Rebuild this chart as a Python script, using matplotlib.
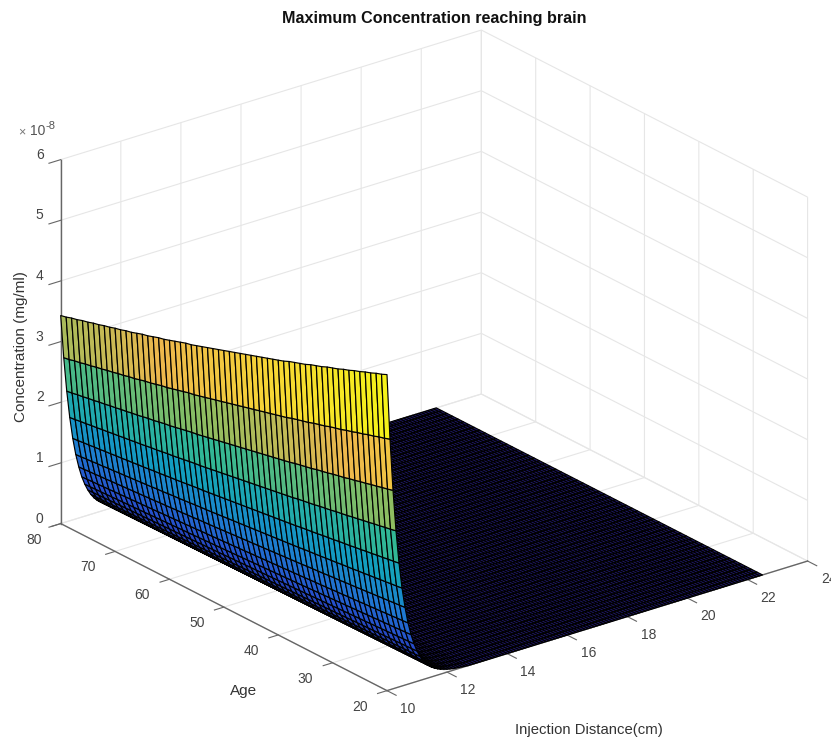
import numpy as np
import matplotlib
matplotlib.use('Agg')
import matplotlib.pyplot as plt
from matplotlib.colors import LinearSegmentedColormap
from mpl_toolkits.mplot3d import proj3d

plt.rcParams['font.family'] = ['Liberation Sans', 'DejaVu Sans']

# age axis of the surface, one column per year
ages = list(range(20, 81))

# concentration (x 1e-8 mg/ml) along the x = 10 cm edge, read age by age
peak_by_age = [
    5.21, 5.17, 5.14, 5.10, 5.07, 5.03, 5.00, 4.96, 4.93, 4.89,
    4.86, 4.83, 4.79, 4.76, 4.73, 4.69, 4.66, 4.63, 4.60, 4.56,
    4.53, 4.50, 4.47, 4.44, 4.41, 4.38, 4.35, 4.32, 4.29, 4.26,
    4.23, 4.20, 4.17, 4.14, 4.11, 4.08, 4.05, 4.03, 4.00, 3.97,
    3.94, 3.91, 3.89, 3.86, 3.83, 3.81, 3.78, 3.75, 3.73, 3.70,
    3.68, 3.65, 3.63, 3.60, 3.58, 3.55, 3.53, 3.50, 3.48, 3.45,
    3.43,
]

# share of the edge value left at each 0.1 cm step from 10 cm
falloff_start = [
    1.0, 0.793, 0.628, 0.497, 0.392, 0.31, 0.246, 0.194, 0.154, 0.122,
    0.096, 0.076, 0.06, 0.048, 0.038, 0.03, 0.024, 0.019, 0.015, 0.012,
    0.009, 0.007, 0.005, 0.004, 0.003, 0.002, 0.001,
]
falloff_flat = [0.0] * 99
falloff = falloff_start + falloff_flat

distance_start = 10
distance_step = 0.1

x_ticks = [10, 12, 14, 16, 18, 20, 22, 24]
y_ticks = [20, 30, 40, 50, 60, 70, 80]
z_ticks = [0, 1, 2, 3, 4, 5, 6]

# parula, toned down a bit to look like the screenshot
parula = LinearSegmentedColormap.from_list('parula', [
    (0.13, 0.10, 0.42), (0.15, 0.30, 0.80), (0.12, 0.48, 0.82),
    (0.07, 0.62, 0.75), (0.20, 0.72, 0.58), (0.55, 0.74, 0.38),
    (0.93, 0.72, 0.30), (0.97, 0.85, 0.20), (0.96, 0.95, 0.10)])

distances = distance_start + distance_step * np.arange(len(falloff))
Z = np.outer(falloff, peak_by_age)
A, D = np.meshgrid(ages, distances)
colors = parula(Z / Z.max())

fig = plt.figure(figsize=(8.31, 7.38), dpi=100)
ax = fig.add_axes([10 / 831, -46.5 / 738, 826 / 831, 826 / 738], projection='3d', proj_type='ortho')
ax.set_box_aspect((1, 1, 0.745))
ax.view_init(elev=23.4, azim=-127.8)

ax.plot_surface(D, A, Z, facecolors=colors, rstride=1, cstride=1, shade=False,
                edgecolor='black', linewidth=0.85)

ax.set_xlim(10, 24)
ax.set_ylim(20, 80)
ax.set_zlim(0, 6)
ax.set_xticks(x_ticks)
ax.set_yticks(y_ticks)
ax.set_zticks(z_ticks)
ax.set_xticklabels([])
ax.set_yticklabels([])
ax.set_zticklabels([])

tick_factors = {'x': 0.35, 'y': 0.28, 'z': 0.35}
for name, axis in (('x', ax.xaxis), ('y', ax.yaxis), ('z', ax.zaxis)):
    axis.pane.set_facecolor('white')
    axis.pane.set_edgecolor('white')
    axis.line.set_color('#666666')
    axis.line.set_linewidth(1.0)
    axis._axinfo['grid'].update(color='#e6e6e6', linewidth=0.8)
    axis._axinfo['tick'].update(inward_factor=tick_factors[name], outward_factor=0.0)
ax.tick_params(axis='both', color='#666666')
ax.tick_params(axis='z', color='#666666')


def tick_label(text, x, y, z, dx, dy):
    # 3d axis labels can't be nudged, so put them next to the projected tick
    px, py, _ = proj3d.proj_transform(x, y, z, ax.get_proj())
    ax.annotate(text, xy=(px, py), xytext=(dx, dy), textcoords='offset pixels', ha='center', va='center',
                fontsize=10, color='#444444', annotation_clip=False)


for t in x_ticks:
    tick_label(str(t), t, 20, 0, 21, -18)
for t in y_ticks:
    tick_label(str(t), 10, t, 0, -27, -16)
for t in z_ticks:
    tick_label(str(t), 10, 80, t, -21, 5)

fig.text(434.5 / 831, 1 - 18 / 738, 'Maximum Concentration reaching brain', ha='center', va='center',
         fontsize=11.6, fontweight='bold', color='#111111')
fig.text(244 / 831, 1 - 691 / 738, 'Age', ha='center', va='center', fontsize=11, color='#333333')
fig.text(589 / 831, 1 - 730 / 738, 'Injection Distance(cm)', ha='center', va='center', fontsize=10.7, color='#333333')
fig.text(21 / 831, 1 - 347 / 738, 'Concentration (mg/ml)', ha='center', va='center', rotation=90,
         fontsize=11, color='#333333')
fig.text(22 / 831, 1 - 132 / 738, '×', ha='center', va='center', fontsize=9, color='#777777')
fig.text(30 / 831, 1 - 131 / 738, '10', ha='left', va='center', fontsize=10, color='#555555')
fig.text(45 / 831, 1 - 126 / 738, '-8', ha='left', va='center', fontsize=8, color='#555555')

fig.savefig('out.png', dpi=100)
